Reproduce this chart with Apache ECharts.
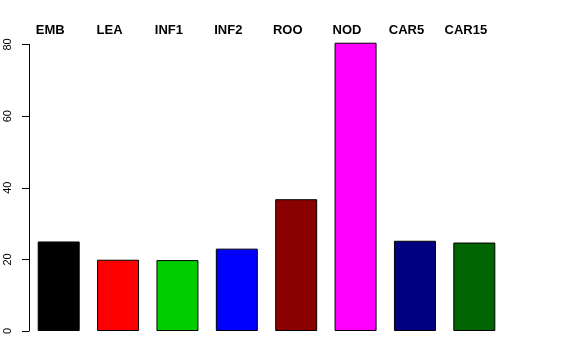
<!DOCTYPE html>
<html>
<head>
<meta charset="utf-8">
<script src="https://cdn.jsdelivr.net/npm/echarts@6/dist/echarts.min.js"></script>
<style>html,body{margin:0;padding:0;background:#fff;}#c{width:576px;height:360px;}</style>
</head>
<body>
<div id="c"></div>
<script>
var categories = ["EMB", "LEA", "INF1", "INF2", "ROO", "NOD", "CAR5", "CAR15"];
var values = [25.0, 19.9, 19.8, 23.0, 36.8, 80.5, 25.2, 24.7];
var barColors = ["#000000", "#FF0000", "#00CD00", "#0000FF", "#8B0000", "#FF00FF", "#000080", "#006400"];
var yTicks = [0, 20, 40, 60, 80];

var chart = echarts.init(document.getElementById('c'), null, {renderer: 'canvas'});
chart.setOption({
  animation: false,
  backgroundColor: '#ffffff',
  grid: {left: 29, right: 72, top: 44.5, bottom: 29, containLabel: false},
  xAxis: {
    type: 'category',
    position: 'top',
    data: categories,
    axisLine: {show: false},
    axisTick: {show: false},
    axisLabel: {
      fontFamily: 'Liberation Sans, Arial, sans-serif',
      fontWeight: 'bold',
      fontSize: 13,
      color: '#000',
      margin: 8,
      padding: [0, 17, 0, 0]
    }
  },
  yAxis: {
    type: 'value',
    min: yTicks[0],
    max: yTicks[yTicks.length - 1],
    interval: 20,
    splitLine: {show: false},
    axisLine: {show: true, lineStyle: {color: '#000', width: 1}},
    axisTick: {show: true, length: 7, lineStyle: {color: '#000', width: 1}},
    axisLabel: {
      rotate: 90,
      fontFamily: 'Liberation Sans, Arial, sans-serif',
      fontSize: 11,
      color: '#000',
      margin: 16
    }
  },
  series: [{
    type: 'bar',
    clip: false,
    barWidth: 42,
    data: values.map(function (v, i) {
      return {value: v, itemStyle: {color: barColors[i]}};
    }),
    itemStyle: {borderColor: '#000', borderWidth: 1}
  }]
});
</script>
</body>
</html>
